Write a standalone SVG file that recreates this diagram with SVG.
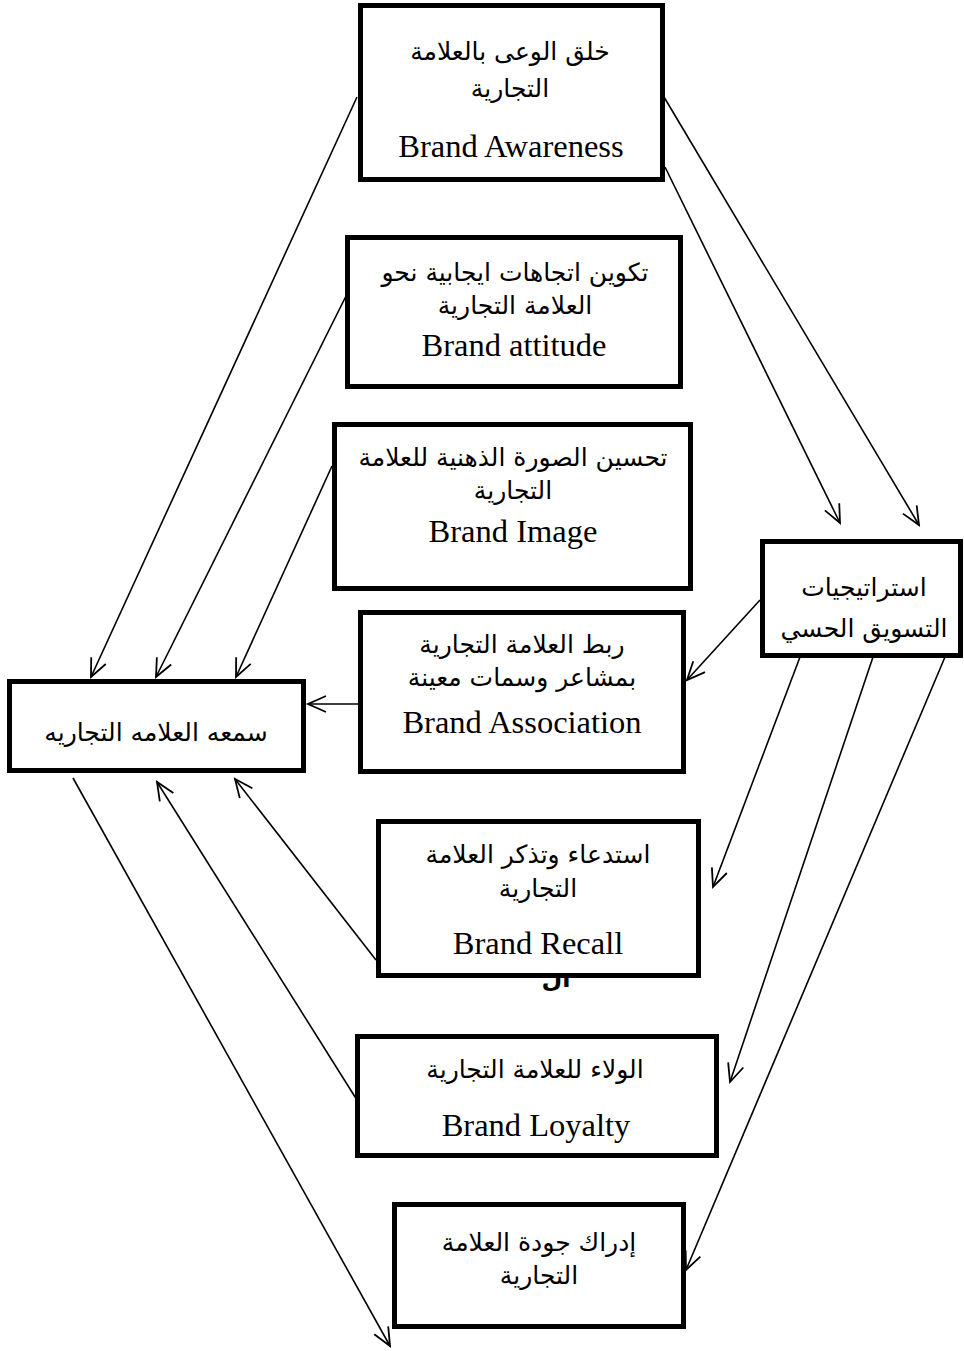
<svg xmlns="http://www.w3.org/2000/svg" width="964" height="1351" viewBox="0 0 964 1351">
<style>
.box{fill:#fff;stroke:#000;stroke-width:5}
.ar{font-family:"DejaVu Sans","Liberation Sans",sans-serif;font-size:25px;fill:#000;text-anchor:middle;direction:rtl}
.en{font-family:"Liberation Serif","Times New Roman",serif;font-size:32.5px;fill:#000;text-anchor:middle}
.cn{stroke:#000;stroke-width:1.6;fill:none;marker-end:url(#ah)}
</style>
<defs>
<marker id="ah" markerUnits="userSpaceOnUse" viewBox="-20 -12 22 24" refX="0" refY="0" markerWidth="22" markerHeight="24" orient="auto" overflow="visible">
<path d="M-18,-8 L0,0 L-18,8" fill="none" stroke="#000" stroke-width="1.8"/>
</marker>
</defs>
<rect width="964" height="1351" fill="#fff"/>
<g id="connectors">
<line class="cn" x1="357" y1="97" x2="91" y2="677"/>
<line class="cn" x1="346" y1="296" x2="156" y2="677"/>
<line class="cn" x1="332" y1="466" x2="236" y2="677"/>
<line class="cn" x1="362" y1="704" x2="308" y2="704"/>
<line class="cn" x1="664" y1="97" x2="919" y2="525"/>
<line class="cn" x1="665" y1="167" x2="840" y2="523"/>
<line class="cn" x1="760" y1="600" x2="687" y2="680"/>
<line class="cn" x1="800" y1="657" x2="713" y2="887"/>
<line class="cn" x1="873" y1="657" x2="730" y2="1082"/>
<line class="cn" x1="945" y1="657" x2="686" y2="1270"/>
<line class="cn" x1="73" y1="778" x2="390" y2="1346"/>
<line class="cn" x1="376" y1="960" x2="235" y2="779"/>
<line class="cn" x1="362" y1="1108" x2="157" y2="782"/>
</g>
<text x="556" y="987" font-family="DejaVu Sans, sans-serif" font-size="24" font-weight="bold" text-anchor="middle" direction="rtl">ال</text>
<g id="awareness">
<rect class="box" x="360.5" y="5.5" width="302" height="174"/>
<text class="ar" x="510" y="60">خلق الوعى بالعلامة</text>
<text class="ar" x="510" y="97">التجارية</text>
<text class="en" x="511" y="157">Brand Awareness</text>
</g>
<g id="attitude">
<rect class="box" x="347.5" y="237.5" width="333" height="149"/>
<text class="ar" x="515" y="281">تكوين اتجاهات ايجابية نحو</text>
<text class="ar" x="515" y="314">العلامة التجارية</text>
<text class="en" x="514" y="356">Brand attitude</text>
</g>
<g id="image">
<rect class="box" x="334.5" y="424.5" width="356" height="164"/>
<text class="ar" x="513" y="466">تحسين الصورة الذهنية للعلامة</text>
<text class="ar" x="513" y="499">التجارية</text>
<text class="en" x="513" y="542">Brand Image</text>
</g>
<g id="association">
<rect class="box" x="360.5" y="612.5" width="323" height="159"/>
<text class="ar" x="522" y="653">ربط العلامة التجارية</text>
<text class="ar" x="522" y="686">بمشاعر وسمات معينة</text>
<text class="en" x="522" y="733">Brand Association</text>
</g>
<g id="strategies">
<rect class="box" x="762.5" y="541.5" width="198" height="114"/>
<text class="ar" x="864" y="596">استراتيجيات</text>
<text class="ar" x="864" y="637">التسويق الحسي</text>
</g>
<g id="reputation">
<rect class="box" x="9.5" y="681.5" width="294" height="89"/>
<text class="ar" x="156" y="741">سمعه العلامه التجاريه</text>
</g>
<g id="recall">
<rect class="box" x="378.5" y="821.5" width="320" height="154"/>
<text class="ar" x="538" y="863">استدعاء وتذكر العلامة</text>
<text class="ar" x="538" y="897">التجارية</text>
<text class="en" x="538" y="954">Brand Recall</text>
</g>
<g id="loyalty">
<rect class="box" x="357.5" y="1036.5" width="359" height="119"/>
<text class="ar" x="535" y="1078">الولاء للعلامة التجارية</text>
<text class="en" x="536" y="1136">Brand Loyalty</text>
</g>
<g id="quality">
<rect class="box" x="394.5" y="1204.5" width="289" height="122"/>
<text class="ar" x="539" y="1251">إدراك جودة العلامة</text>
<text class="ar" x="539" y="1284">التجارية</text>
</g>
</svg>
